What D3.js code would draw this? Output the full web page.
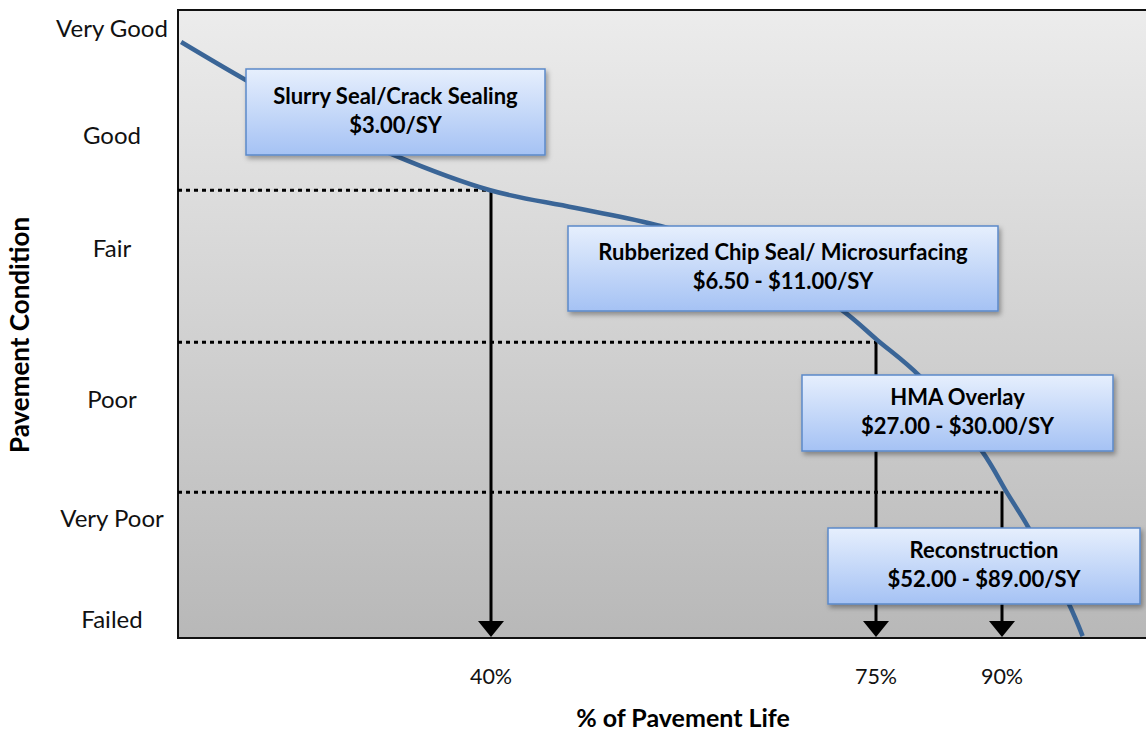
<!DOCTYPE html>
<html>
<head>
<meta charset="utf-8">
<script src="https://d3js.org/d3.v7.min.js"></script>
<style>
    body { margin: 0; background: #fff; }
    text { font-family: Lato, "Open Sans", sans-serif; }
</style>
</head>
<body>
<div id="chart"></div>
<script>
    // condition ratings and where they sit on a 0-100 condition index
    var conditionLabels = ["Very Good", "Good", "Fair", "Poor", "Very Poor", "Failed"];
    var conditionIndex = [97, 80, 62, 38, 19, 3];

    // % of pavement life ticks and the condition at which each treatment kicks in
    var lifeTicks = [40, 75, 90];
    var thresholdIndex = [71.3, 47.1, 23.2];

    // deterioration curve
    var curveLife = [0.4, 8.6, 18.1, 27.6, 39.9, 47.6, 55.4, 64.5, 71.9, 75.1, 80.2, 87.6, 90.7, 93.1, 97.9, 99.6];
    var curveIndex = [94.9, 88.9, 82.5, 76.9, 71.3, 68.5, 65.6, 60.2, 52.2, 47.5, 41.7, 29.8, 22.9, 17.7, 5.6, 0.3];

    // treatments
    var treatmentNames = ["Slurry Seal/Crack Sealing", "Rubberized Chip Seal/ Microsurfacing", "HMA Overlay", "Reconstruction"];
    var treatmentCosts = ["$3.00/SY", "$6.50 - $11.00/SY", "$27.00 - $30.00/SY", "$52.00 - $89.00/SY"];

    var chart_width = 1146, chart_height = 734;
    var plot_left = 178, plot_top = 10, plot_bottom = 638;

    var svg = d3.select('#chart')
        .append('svg')
        .attr('width', chart_width)
        .attr('height', chart_height);

    var x_scale = d3.scaleLinear()
        .domain([0, 40, 75, 90, 100])
        .range([plot_left, 491, 876, 1002, 1086]);

    var y_scale = d3.scaleLinear()
        .domain([0, 100])
        .range([plot_bottom, plot_top]);

    var defs = svg.append('defs');

    var bg = defs.append('linearGradient')
        .attr('id', 'bg').attr('x1', 0).attr('y1', 0).attr('x2', 0).attr('y2', 1);
    bg.append('stop').attr('offset', '0%').attr('stop-color', '#ececec');
    bg.append('stop').attr('offset', '100%').attr('stop-color', '#b8b8b8');

    var boxFill = defs.append('linearGradient')
        .attr('id', 'boxfill').attr('x1', 0).attr('y1', 0).attr('x2', 0).attr('y2', 1);
    boxFill.append('stop').attr('offset', '0%').attr('stop-color', '#e6effd');
    boxFill.append('stop').attr('offset', '100%').attr('stop-color', '#a5c2f4');

    var shadow = defs.append('filter')
        .attr('id', 'shadow').attr('x', '-10%').attr('y', '-20%').attr('width', '130%').attr('height', '150%');
    shadow.append('feDropShadow')
        .attr('dx', 2).attr('dy', 3).attr('stdDeviation', 2.5)
        .attr('flood-color', '#000').attr('flood-opacity', 0.35);

    // plot background
    svg.append('rect')
        .attr('x', plot_left)
        .attr('y', plot_top)
        .attr('width', chart_width - plot_left)
        .attr('height', plot_bottom - plot_top)
        .attr('fill', 'url(#bg)');

    // frame: top, left, bottom
    svg.append('path')
        .attr('d', 'M' + chart_width + ',' + plot_top + 'H' + plot_left + 'V' + plot_bottom + 'H' + chart_width)
        .attr('fill', 'none')
        .attr('stroke', '#111')
        .attr('stroke-width', 2);

    // dotted threshold lines
    svg.selectAll('.dots')
        .data(lifeTicks)
        .enter()
        .append('line')
        .attr('x1', plot_left)
        .attr('x2', (d) => x_scale(d))
        .attr('y1', (d, i) => y_scale(thresholdIndex[i]))
        .attr('y2', (d, i) => y_scale(thresholdIndex[i]))
        .attr('stroke', '#000')
        .attr('stroke-width', 3)
        .attr('stroke-dasharray', '4,4');

    // arrows down to the axis
    svg.selectAll('.arrow')
        .data(lifeTicks)
        .enter()
        .append('line')
        .attr('x1', (d) => x_scale(d))
        .attr('x2', (d) => x_scale(d))
        .attr('y1', (d, i) => y_scale(thresholdIndex[i]) - 1)
        .attr('y2', plot_bottom - 14)
        .attr('stroke', '#000')
        .attr('stroke-width', 3);

    svg.selectAll('.head')
        .data(lifeTicks)
        .enter()
        .append('path')
        .attr('d', (d) => {
            var cx = x_scale(d);
            return 'M' + (cx - 13) + ',' + (plot_bottom - 17) + 'L' + (cx + 13) + ',' + (plot_bottom - 17) + 'L' + cx + ',' + (plot_bottom - 1) + 'Z';
        })
        .attr('fill', '#000');

    // deterioration curve
    var line = d3.line()
        .x((d) => x_scale(d[0]))
        .y((d) => y_scale(d[1]))
        .curve(d3.curveCatmullRom.alpha(0.5));

    svg.append('path')
        .datum(d3.zip(curveLife, curveIndex))
        .attr('d', line)
        .attr('fill', 'none')
        .attr('stroke', '#3a6597')
        .attr('stroke-width', 4.5);

    // treatment boxes, laid out in pixels: x, y, width, height
    var boxLayout = [
        [246, 69, 299, 86],
        [568, 226, 430, 85],
        [802, 375, 311, 76],
        [828, 528, 312, 76]
    ];

    var boxes = svg.selectAll('.box')
        .data(treatmentNames)
        .enter()
        .append('g');

    boxes.append('rect')
        .attr('x', (d, i) => boxLayout[i][0])
        .attr('y', (d, i) => boxLayout[i][1])
        .attr('width', (d, i) => boxLayout[i][2])
        .attr('height', (d, i) => boxLayout[i][3])
        .attr('fill', 'url(#boxfill)')
        .attr('stroke', '#5b89c9')
        .attr('stroke-width', 1.5)
        .attr('filter', 'url(#shadow)');

    boxes.append('text')
        .attr('x', (d, i) => boxLayout[i][0] + boxLayout[i][2] / 2)
        .attr('y', (d, i) => boxLayout[i][1] + boxLayout[i][3] / 2 - 8.5)
        .attr('text-anchor', 'middle')
        .attr('font-size', 22)
        .attr('font-weight', 'bold')
        .attr('fill', '#000')
        .text((d) => d);

    boxes.append('text')
        .attr('x', (d, i) => boxLayout[i][0] + boxLayout[i][2] / 2)
        .attr('y', (d, i) => boxLayout[i][1] + boxLayout[i][3] / 2 + 20.5)
        .attr('text-anchor', 'middle')
        .attr('font-size', 22)
        .attr('font-weight', 'bold')
        .attr('fill', '#000')
        .text((d, i) => treatmentCosts[i]);

    // y labels
    svg.selectAll('.ylab')
        .data(conditionLabels)
        .enter()
        .append('text')
        .attr('x', 112)
        .attr('y', (d, i) => y_scale(conditionIndex[i]))
        .attr('dy', '0.35em')
        .attr('text-anchor', 'middle')
        .attr('font-size', 24)
        .attr('fill', '#111')
        .text((d) => d);

    // x labels
    svg.selectAll('.xlab')
        .data(lifeTicks)
        .enter()
        .append('text')
        .attr('x', (d) => x_scale(d))
        .attr('y', 676)
        .attr('dy', '0.35em')
        .attr('text-anchor', 'middle')
        .attr('font-size', 21.5)
        .attr('fill', '#111')
        .text((d) => d + '%');

    // axis titles
    svg.append('text')
        .attr('transform', 'translate(20,335) rotate(-90)')
        .attr('dy', '0.35em')
        .attr('text-anchor', 'middle')
        .attr('font-size', 26)
        .attr('font-weight', 'bold')
        .text('Pavement Condition');

    svg.append('text')
        .attr('x', 683)
        .attr('y', 718)
        .attr('dy', '0.35em')
        .attr('text-anchor', 'middle')
        .attr('font-size', 25)
        .attr('font-weight', 'bold')
        .text('% of Pavement Life');
</script>
</body>
</html>
